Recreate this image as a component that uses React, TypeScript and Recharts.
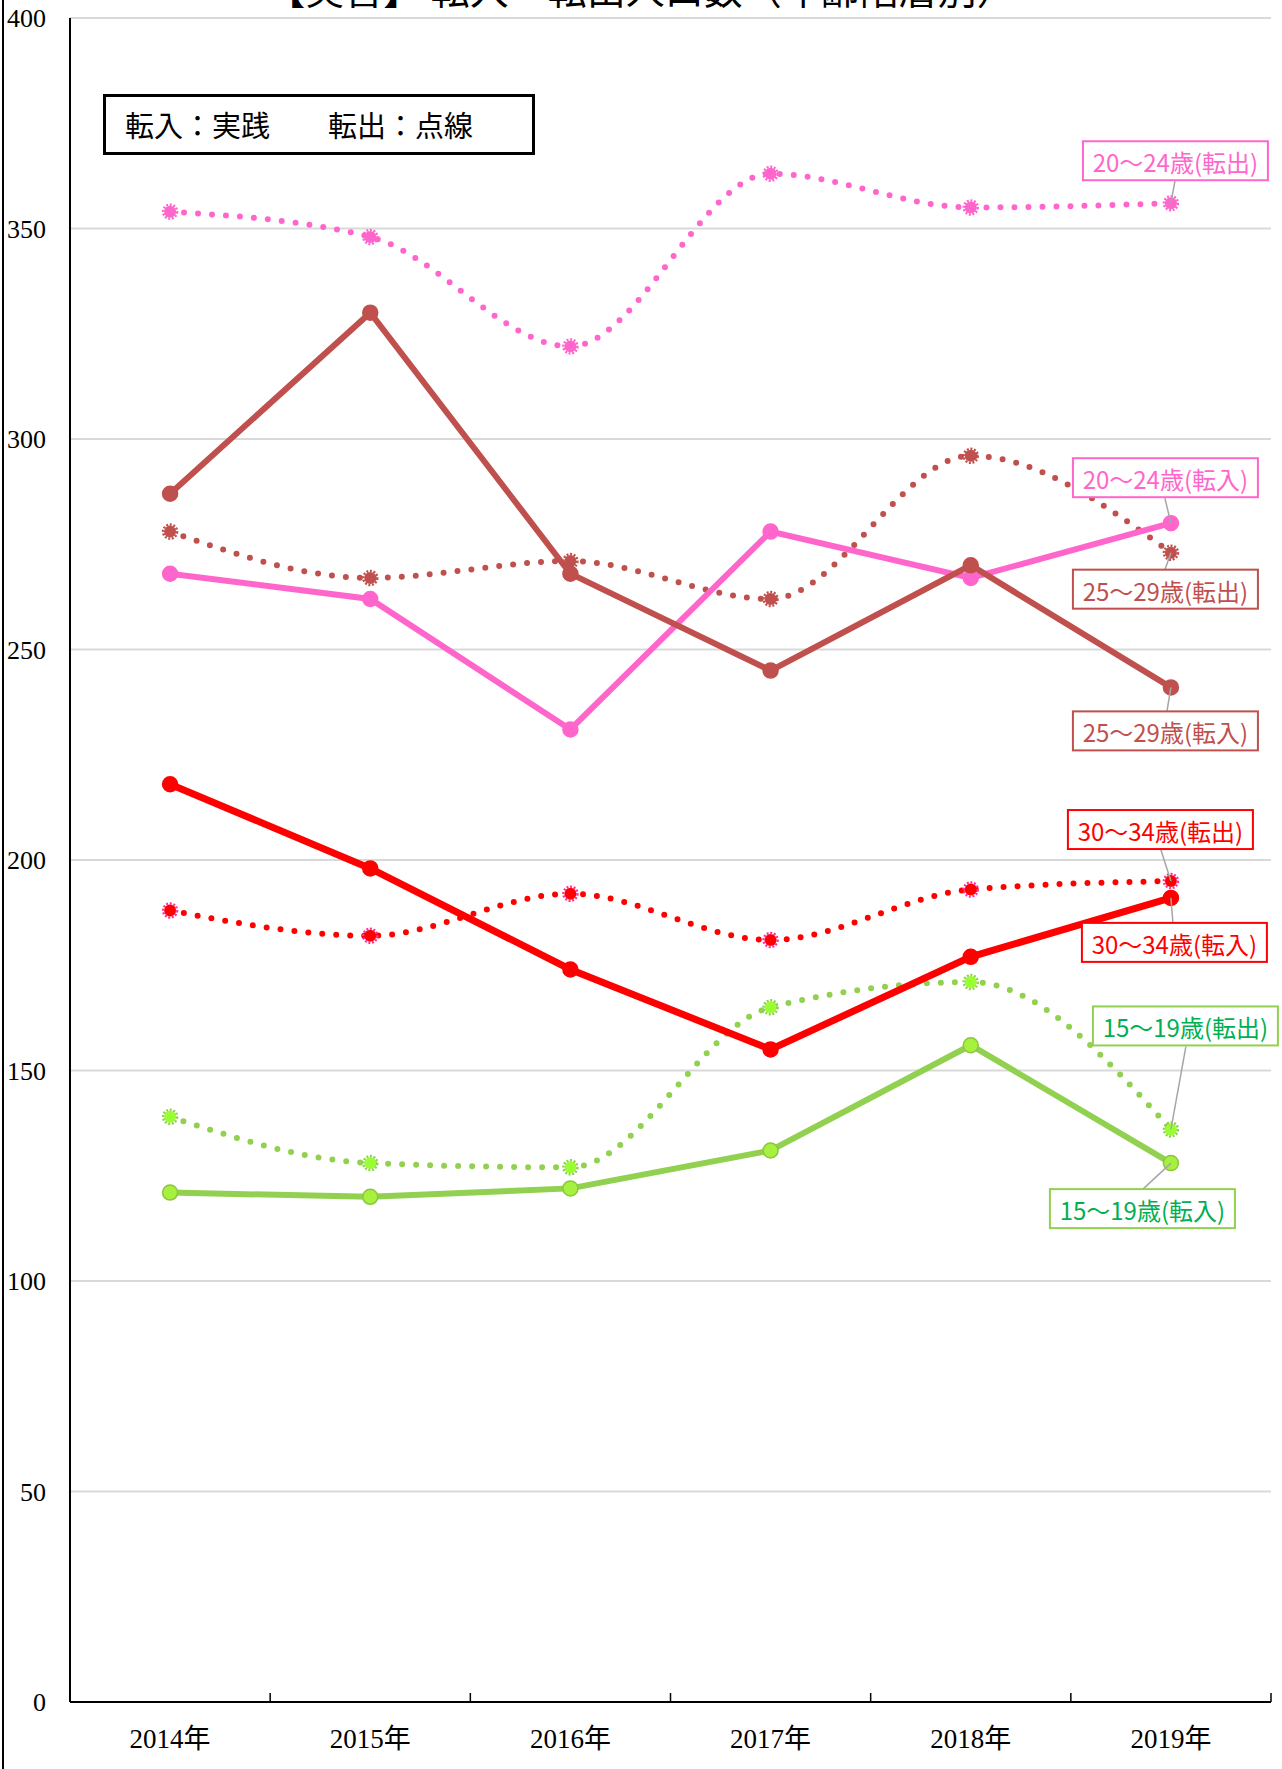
import {
  LineChart,
  Line,
  XAxis,
  YAxis,
  CartesianGrid,
  LabelList,
} from "recharts";

// categories and values
const years = ["2014年", "2015年", "2016年", "2017年", "2018年", "2019年"];
const yTicks = [0, 50, 100, 150, 200, 250, 300, 350, 400];

const in15 = [121, 120, 122, 131, 156, 128];
const out15 = [139, 128, 127, 165, 171, 136];
const in20 = [268, 262, 231, 278, 267, 280];
const out20 = [354, 348, 322, 363, 355, 356];
const in25 = [287, 330, 268, 245, 270, 241];
const out25 = [278, 267, 271, 262, 296, 273];
const in30 = [218, 198, 174, 155, 177, 191];
const out30 = [188, 182, 192, 181, 193, 195];

const W = 1282;
const H = 1769;
const MARGIN = { top: 18, right: 11, left: 0, bottom: 0 };
const Y_AXIS_W = 70;
const X_AXIS_H = 67;
const BAND = (W - MARGIN.left - MARGIN.right - Y_AXIS_W) / years.length;

const PINK = "#FF66CC";
const BROWN = "#C0504D";
const RED = "#FF0000";
const GREEN = "#92D050";

const data = years.map((year, i) => ({
  year,
  in15: in15[i],
  out15: out15[i],
  in20: in20[i],
  out20: out20[i],
  in25: in25[i],
  out25: out25[i],
  in30: in30[i],
  out30: out30[i],
}));

// label box placement relative to the last point (dx/dy of box top-left, leader anchor)
type LabelCfg = {
  text: string;
  color: string;
  border: string;
  dx: number;
  dy: number;
  ax: number;
  ay: number;
};

const labelFor = (cfg: LabelCfg) => (props: any) => {
  const { x, y, index } = props;
  if (index !== years.length - 1) return null;
  const bw = 185;
  const bh = 39;
  const left = x + cfg.dx;
  const top = y + cfg.dy;
  return (
    <g>
      <line x1={x + cfg.ax} y1={y + cfg.ay} x2={x} y2={y} stroke="#A6A6A6" strokeWidth={1.5} />
      <rect x={left} y={top} width={bw} height={bh} fill="#fff" stroke={cfg.border} strokeWidth={2} />
      <text
        x={left + bw / 2}
        y={top + bh / 2 + 1}
        textAnchor="middle"
        dominantBaseline="central"
        fill={cfg.color}
        fontSize={24}
        fontFamily="'Noto Sans CJK JP', 'Noto Sans', sans-serif"
      >
        {cfg.text}
      </text>
    </g>
  );
};

const solidDot = (color: string, fill?: string) => (props: any) => {
  const { cx, cy, index } = props;
  return <circle key={index} cx={cx} cy={cy} r={7.5} fill={fill || color} stroke={color} strokeWidth={1.5} />;
};

const dottedDot = (color: string, edge?: string) => (props: any) => {
  const { cx, cy, index } = props;
  return (
    <g key={index}>
      <circle cx={cx} cy={cy} r={6} fill={color} />
      <circle cx={cx} cy={cy} r={7} fill="none" stroke={edge || color} strokeWidth={2.5} strokeDasharray="2 1.6" />
    </g>
  );
};

const XTick = (props: any) => {
  const { x, y, payload, index } = props;
  const axisY = H - X_AXIS_H;
  return (
    <g>
      <line x1={x - BAND / 2} y1={axisY} x2={x - BAND / 2} y2={axisY - 9} stroke="#000" strokeWidth={1.5} />
      {index === years.length - 1 && (
        <line x1={x + BAND / 2} y1={axisY} x2={x + BAND / 2} y2={axisY - 9} stroke="#000" strokeWidth={1.5} />
      )}
      <text
        x={x}
        y={y + 44}
        textAnchor="middle"
        fill="#000"
        fontSize={27}
        fontFamily="'Liberation Serif', 'DejaVu Serif', 'Noto Sans CJK JP', serif"
      >
        {payload.value}
      </text>
    </g>
  );
};

const dotted = {
  strokeDasharray: "0 14",
  strokeLinecap: "round" as const,
  strokeWidth: 6,
};

const App = () => {
  return (
    <div style={{ position: "relative", width: W, height: H, overflow: "hidden", background: "#fff" }}>
      <style>{`body{margin:0}`}</style>
      <div
        style={{
          position: "absolute",
          top: -33,
          left: 0,
          width: W,
          textAlign: "center",
          fontSize: 39,
          lineHeight: "40px",
          fontFamily: "'Noto Sans CJK JP', sans-serif",
          color: "#000",
          whiteSpace: "nowrap",
        }}
      >
        【実習】 転入・転出人口数（年齢階層別）
      </div>
      <div style={{ position: "absolute", left: 2, top: 0, width: 2, height: H, background: "#000" }} />
      <div
        style={{
          position: "absolute",
          left: 103,
          top: 94,
          width: 407,
          height: 55,
          border: "3px solid #000",
          background: "#fff",
          zIndex: 2,
          fontFamily: "'Noto Sans CJK JP', sans-serif",
          fontSize: 29,
          lineHeight: "55px",
          paddingLeft: 19,
          boxSizing: "content-box",
          whiteSpace: "pre",
        }}
      >
        {"転入：実践　　転出：点線"}
      </div>
      <LineChart width={W} height={H} data={data} margin={MARGIN}>
        <CartesianGrid vertical={false} stroke="#D9D9D9" strokeWidth={2} />
        <XAxis
          dataKey="year"
          height={X_AXIS_H}
          padding={{ left: BAND / 2, right: BAND / 2 }}
          axisLine={{ stroke: "#000", strokeWidth: 2 }}
          tickLine={false}
          tickSize={0}
          tick={<XTick />}
          interval={0}
        />
        <YAxis
          domain={[0, 400]}
          ticks={yTicks}
          width={Y_AXIS_W}
          axisLine={{ stroke: "#000", strokeWidth: 2 }}
          tickLine={false}
          tickMargin={18}
          tick={{ fill: "#000", fontSize: 26, fontFamily: "'Liberation Serif', 'DejaVu Serif', serif" }}
        />

        <Line dataKey="out20" type="monotone" stroke={PINK} {...dotted} dot={dottedDot(PINK)} isAnimationActive={false}>
          <LabelList
            dataKey="out20"
            content={labelFor({ text: "20～24歳(転出)", color: PINK, border: PINK, dx: -88, dy: -62, ax: 4, ay: -22 })}
          />
        </Line>
        <Line dataKey="out25" type="monotone" stroke={BROWN} {...dotted} dot={dottedDot(BROWN)} isAnimationActive={false}>
          <LabelList
            dataKey="out25"
            content={labelFor({ text: "25～29歳(転出)", color: BROWN, border: BROWN, dx: -98, dy: 17, ax: -6, ay: 17 })}
          />
        </Line>
        <Line dataKey="out30" type="monotone" stroke={RED} {...dotted} dot={dottedDot(RED, "#FF3399")} isAnimationActive={false}>
          <LabelList
            dataKey="out30"
            content={labelFor({ text: "30～34歳(転出)", color: RED, border: RED, dx: -103, dy: -71, ax: -10, ay: -31 })}
          />
        </Line>
        <Line dataKey="out15" type="monotone" stroke={GREEN} {...dotted} dot={dottedDot("#99FF33", GREEN)} isAnimationActive={false}>
          <LabelList
            dataKey="out15"
            content={labelFor({ text: "15～19歳(転出)", color: "#00B050", border: GREEN, dx: -78, dy: -123, ax: 15, ay: -83 })}
          />
        </Line>

        <Line dataKey="in20" type="linear" stroke={PINK} strokeWidth={6} dot={solidDot(PINK)} isAnimationActive={false}>
          <LabelList
            dataKey="in20"
            content={labelFor({ text: "20～24歳(転入)", color: PINK, border: PINK, dx: -98, dy: -65, ax: -6, ay: -25 })}
          />
        </Line>
        <Line dataKey="in25" type="linear" stroke={BROWN} strokeWidth={6} dot={solidDot(BROWN)} isAnimationActive={false}>
          <LabelList
            dataKey="in25"
            content={labelFor({ text: "25～29歳(転入)", color: BROWN, border: BROWN, dx: -98, dy: 24, ax: -4, ay: 24 })}
          />
        </Line>
        <Line dataKey="in30" type="linear" stroke={RED} strokeWidth={7} dot={solidDot(RED)} isAnimationActive={false}>
          <LabelList
            dataKey="in30"
            content={labelFor({ text: "30～34歳(転入)", color: RED, border: RED, dx: -89, dy: 25, ax: 2, ay: 25 })}
          />
        </Line>
        <Line dataKey="in15" type="linear" stroke={GREEN} strokeWidth={6} dot={solidDot("#8CC63F", "#A6F040")} isAnimationActive={false}>
          <LabelList
            dataKey="in15"
            content={labelFor({ text: "15～19歳(転入)", color: "#00B050", border: GREEN, dx: -121, dy: 26, ax: -28, ay: 26 })}
          />
        </Line>
      </LineChart>
    </div>
  );
};

export default App;
